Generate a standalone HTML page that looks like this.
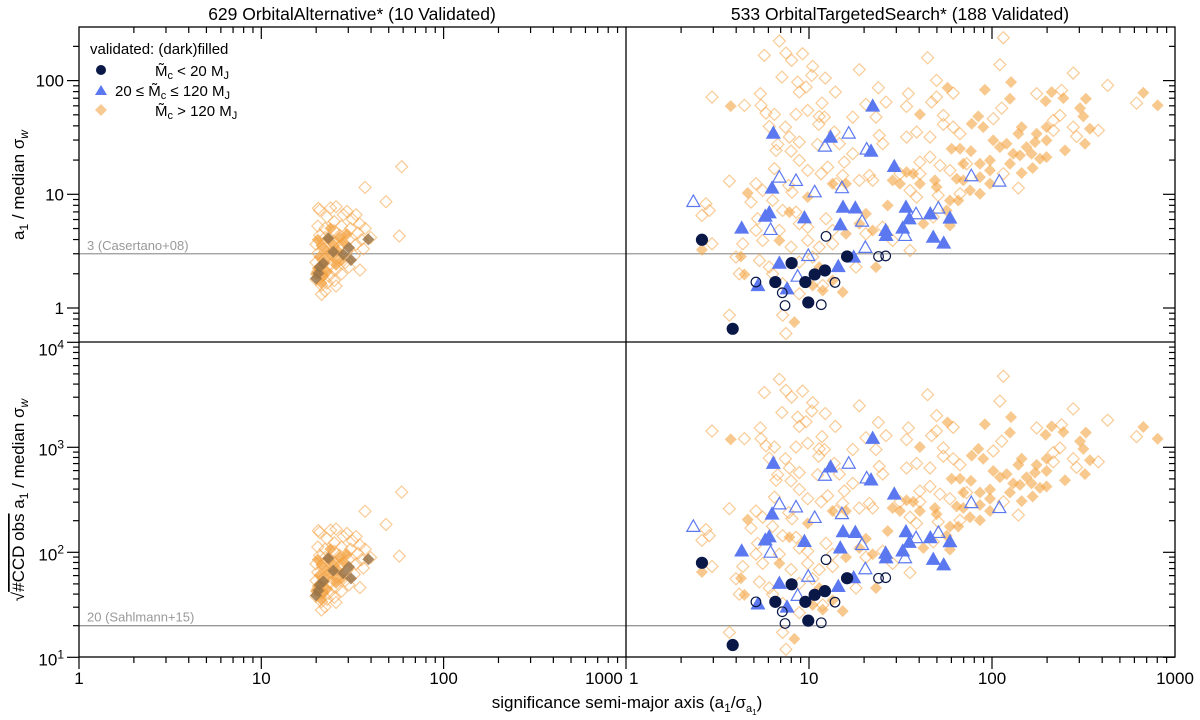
<!DOCTYPE html>
<html><head><meta charset="utf-8"><style>
body{margin:0;background:#fff}
svg{display:block;font-family:"Liberation Sans",sans-serif}
</style></head><body>
<svg id="chart" width="1200" height="720" viewBox="0 0 1200 720" xmlns="http://www.w3.org/2000/svg">
<defs>
<clipPath id="cTL"><rect x="79" y="27" width="547" height="315"/></clipPath>
<clipPath id="cTR"><rect x="626" y="27" width="549" height="315"/></clipPath>
<clipPath id="cBL"><rect x="79" y="342" width="547" height="315"/></clipPath>
<clipPath id="cBR"><rect x="626" y="342" width="549" height="315"/></clipPath>
</defs>
<g id="axes"></g>
<g id="marks"></g>
<g id="frame"></g>
<text x="352" y="20" font-size="17.5" text-anchor="middle">629 OrbitalAlternative* (10 Validated)</text>
<text x="900" y="20" font-size="17.5" text-anchor="middle">533 OrbitalTargetedSearch* (188 Validated)</text>
<text x="627" y="708" font-size="17" text-anchor="middle">significance semi-major axis (a<tspan font-size="12" dy="4">1</tspan><tspan dy="-4">/σ</tspan><tspan font-size="11" dy="4">a</tspan><tspan font-size="8" dy="3">1</tspan><tspan dy="-7">)</tspan></text>
<text transform="translate(24,185) rotate(-90)" font-size="17" text-anchor="middle">a<tspan font-size="12" dy="4">1</tspan><tspan dy="-4"> / median σ</tspan><tspan font-size="12" dy="4" font-style="italic">w</tspan></text>
<text transform="translate(24,500) rotate(-90)" font-size="17" text-anchor="middle">√<tspan text-decoration="overline">#CCD obs</tspan>  a<tspan font-size="12" dy="4">1</tspan><tspan dy="-4"> / median σ</tspan><tspan font-size="12" dy="4" font-style="italic">w</tspan></text>
<g font-size="15">
<text x="90" y="54">validated: (dark)filled</text>
<circle cx="101" cy="70" r="5" fill="#0a1848"/>
<text x="155" y="76">M̃<tspan font-size="11" dy="3">c</tspan><tspan dy="-3"> &lt;   20 M</tspan><tspan font-size="11" dy="3">J</tspan></text>
<path d="M101,85 L107,95 L95,95 Z" fill="#5b78f0"/>
<text x="115" y="96">20 ≤ M̃<tspan font-size="11" dy="3">c</tspan><tspan dy="-3"> ≤ 120 M</tspan><tspan font-size="11" dy="3">J</tspan></text>
<path d="M101,104 L107,110 L101,116 L95,110 Z" fill="#f4b870" opacity="0.75"/>
<text x="155" y="116">M̃<tspan font-size="11" dy="3">c</tspan><tspan dy="-3"> &gt; 120 M</tspan><tspan font-size="11" dy="3">J</tspan></text>
</g>
</svg>
<script>
// values are log10 of the plotted quantities
const rightCircleFilledX=[.415,.583,.816,.905,.98,1.031,1.087,.996,1.208];
const rightCircleFilledY=[.600,-.183,.228,.395,.228,.295,.33,.049,.453];
const rightCircleOpenX=[.71,.854,.869,1.067,1.142,1.093,1.38,1.419];
const rightCircleOpenY=[.228,.134,.022,.029,.225,.63,.453,.458];
const rightTriFilledX=[.805,1.118,1.339,1.348,1.466,.798,.783,.761,.632,.975,1.186,1.253,1.171,1.419,.838,.721,.88,1.16,1.244,1.421,1.53,1.548,1.663,1.77,1.512,1.679,1.736];
const rightTriFilledY=[1.538,1.503,1.38,1.776,1.245,1.055,.838,.808,.703,.794,.887,.88,.732,.682,.395,.198,.169,.365,.448,.638,.887,.785,.829,.791,.703,.623,.571];
const rightTriOpenX=[.368,.838,.929,1.031,1.087,1.217,1.315,1.18,.79,1.29,1.308,.996,.938,1.887,2.04,1.707,1.585,1.525];
const rightTriOpenY=[.937,1.151,1.122,1.022,1.424,1.538,1.398,1.058,.691,.764,.533,.462,.28,1.163,1.116,.879,.829,.638];
const rightDiaOpenX=[.838,.756,.874,.965,.905,1.02,.852,.938,1.015,1.089,1.275,.984,.947,1.144,1.379,.47,.647,.734,.738,.765,.811,.929,.993,1.071,1.056,1.084,1.239,1.311,1.366,1.421,.783,.871,1.053,1.138,.893,.947,.829,.82,.902,1.047,1.166,1.239,1.384,1.403,.947,.993,1.102,.811,1.193,1.33,.565,.71,.747,.889,.907,1.066,1.184,1.275,1.348,1.148,.437,.455,.415,.683,.719,.801,.856,.929,.947,.993,1.093,1.129,.838,.71,.638,.747,.902,.993,1.056,1.129,.47,.601,.729,.783,.947,1.02,.619,.801,.856,.947,1.075,1.257,.565,.856,.874,1.311,1.403,1.457,
1.648,2.062,2.043,2.444,2.632,2.79,1.697,1.788,1.543,1.533,1.697,1.67,2.053,2.007,1.734,1.734,1.788,1.825,1.588,1.661,1.533,2.371,2.335,2.444,2.462,2.581,2.335,2.244,2.38,1.661,1.716,1.77,1.606,1.861,2.062,2.144,1.552,1.588,1.706,1.825,1.552,1.497,1.606,1.679];
const rightDiaOpenY=[2.348,2.222,2.242,2.236,2.178,2.125,2.031,1.987,2.046,2.022,2.096,1.943,1.899,1.899,1.937,1.855,1.782,1.885,1.782,1.714,1.703,1.703,1.738,1.802,1.685,1.679,1.679,1.791,1.679,1.811,1.597,1.591,1.615,1.547,1.503,1.459,1.439,1.386,1.38,1.439,1.445,1.357,1.518,1.445,1.298,1.21,1.239,1.225,1.283,1.166,1.116,1.093,1.034,1.078,1.019,1.181,1.166,1.122,1.122,1.093,.917,.858,.814,.931,.785,.946,.858,.843,.741,.711,.785,.682,.682,.682,.565,.594,.536,.594,.536,.565,.565,.448,.418,.36,.404,.448,.301,.301,.213,.125,.198,.36,-.063,-.063,-.224,.653,.711,.594,
2.201,2.377,2.14,2.066,1.958,1.802,2.002,1.89,1.885,1.773,1.855,1.811,1.758,1.665,1.694,1.615,1.591,1.533,1.547,1.503,1.503,1.694,1.65,1.591,1.509,1.562,1.562,1.885,1.914,1.327,1.254,1.21,1.283,1.269,1.181,1.055,1.034,.975,.99,1.005,.506,1.181,1.181,.8];
const rightDiaFilledX=[.572,.665,.415,.628,.647,.92,.893,.993,1.129,1.202,1.366,1.184,1.075,1.02,.838,1.202,1.275,1.348,1.457,1.43,1.311,1.056,1.129,
1.757,1.961,2.104,2.098,2.293,2.326,2.39,2.513,2.481,2.499,2.827,2.905,1.606,1.925,1.889,1.952,2.007,2.162,2.144,2.244,2.235,2.298,2.298,2.399,2.508,2.535,1.779,1.825,1.885,2.043,2.08,2.116,2.153,2.189,2.216,2.262,2.298,2.098,2.162,2.222,1.989,1.934,1.934,1.989,1.843,1.533,1.57,1.688,1.807,1.843,1.88,1.934,1.989,1.77,1.816,1.752,1.625,1.77,1.697,1.606,1.497];
const rightDiaFilledY=[1.776,1.011,.512,.453,.295,-.124,.843,.975,1.093,1.093,.36,.14,.154,.198,.594,.653,.741,.682,1.122,.902,.829,.36,.242,
1.937,1.92,1.987,1.84,1.82,1.899,1.846,1.84,1.758,1.685,1.893,1.782,1.703,1.685,1.621,1.591,1.474,1.591,1.533,1.533,1.459,1.591,1.474,1.386,1.445,1.577,1.401,1.401,1.38,1.415,1.445,1.357,1.342,1.415,1.357,1.313,1.327,1.269,1.187,1.231,1.298,1.269,1.151,1.21,1.269,1.195,1.181,1.122,1.137,1.122,1.034,1.005,1.093,.946,.946,.858,.741,.726,1.063,1.093,1.093];
const leftDiaOpenX=[1.77,1.569,1.684,1.757,1.41,1.313,1.41,1.541,1.30,1.31,1.30,1.31,1.30,1.32,1.31,1.33,1.33,1.34,1.34,1.35,1.35,1.36,1.37,1.38,1.38,1.39,1.40,1.40,1.41,1.42,1.43,1.43,1.44,1.45,1.46,1.47,1.48,1.49,1.50,1.51,1.52,1.53,1.54,1.55,1.56,1.36,1.40,1.44,1.48,1.32,1.38,1.47,1.52,1.57,1.60,1.33,1.35];
const leftDiaOpenY=[1.243,1.061,.935,.633,.891,.877,.193,.334,.25,.32,.40,.48,.56,.64,.72,.20,.30,.42,.52,.62,.70,.80,.28,.38,.48,.58,.68,.76,.34,.44,.54,.64,.72,.82,.40,.50,.60,.70,.78,.46,.56,.66,.74,.60,.52,.22,.24,.30,.36,.86,.88,.85,.82,.70,.62,.12,.15];
const leftDiaFilledX=[1.31,1.32,1.33,1.35,1.36,1.37,1.39,1.40,1.42,1.43,1.45,1.47,1.34,1.31,1.38,1.30,1.33,1.36,1.41,1.44];
const leftDiaFilledY=[.35,.45,.55,.40,.50,.60,.45,.55,.50,.62,.58,.65,.28,.60,.70,.30,.22,.32,.38,.42];
const leftDiaDarkX=[1.368,1.481,1.587,1.395,1.34,1.492,1.313,1.32,1.45,1.30];
const leftDiaDarkY=[.613,.53,.604,.495,.393,.422,.305,.36,.47,.26];
// log10 of typical sqrt(#CCD obs) per sample (bottom panel = top value x sqrt(N))
const sqrtNccdLogLeft=1.33;
const sqrtNccdLogRightDiamond=1.30;
const sqrtNccdLogRightTriangle=1.31;
const sqrtNccdLogRightCircle=1.30;
const thresholdTop=3, thresholdBottom=20;
const xTickLabels=['1','10','100','1000'];

const NS='http://www.w3.org/2000/svg';
const xL=l=>79+182.3*l, xR=l=>626+183*l;
const yT=l=>308-113.7*l, yB=l=>657.3-105*(l-1);
const marks=document.getElementById('marks'), axes=document.getElementById('axes'), frame=document.getElementById('frame');
function mk(tag,attrs,parent){const e=document.createElementNS(NS,tag);for(const k in attrs)e.setAttribute(k,attrs[k]);parent.appendChild(e);return e;}
const groups={};
['TL','TR','BL','BR'].forEach(p=>{const g=mk('g',{'clip-path':'url(#c'+p+')'},marks);


groups[p]=g;});
function diamond(g,cx,cy,fill,stroke,op,name){const s=6;const e=mk('path',{d:`M${cx},${cy-s} L${cx+s},${cy} L${cx},${cy+s} L${cx-s},${cy} Z`,fill:fill,stroke:stroke,'stroke-width':1.2,opacity:op},g);

}
function tri(g,cx,cy,filled,name){const e=mk('path',{d:`M${cx},${cy-6.5} L${cx+6.5},${cy+5} L${cx-6.5},${cy+5} Z`,fill:filled?'#5b78f0':'none',stroke:'#5b78f0','stroke-width':1.2},g);

}
function circ(g,cx,cy,filled,name){const e=mk('circle',{cx:cx,cy:cy,r:filled?5.5:4.8,fill:filled?'#0a1848':'none',stroke:'#0a1848','stroke-width':1.2},g);

}
function draw(pTop,pBot,xf,X,Y,off,fn){X.forEach((x,i)=>{fn(groups[pTop],xf(x),yT(Y[i]));fn(groups[pBot],xf(x),yB(Y[i]+off));});}
draw('TL','BL',xL,leftDiaOpenX,leftDiaOpenY,sqrtNccdLogLeft,(g,x,y)=>diamond(g,x,y,'none','#f5a850',0.6,'candidate-diamond'));
draw('TL','BL',xL,leftDiaFilledX,leftDiaFilledY,sqrtNccdLogLeft,(g,x,y)=>diamond(g,x,y,'#f3a240','none',0.75,'candidate-diamond-filled'));
draw('TL','BL',xL,leftDiaDarkX,leftDiaDarkY,sqrtNccdLogLeft,(g,x,y)=>diamond(g,x,y,'#9a7448','none',0.85,'validated-diamond'));
draw('TR','BR',xR,rightDiaOpenX,rightDiaOpenY,sqrtNccdLogRightDiamond,(g,x,y)=>diamond(g,x,y,'none','#f5a850',0.6,'candidate-diamond'));
draw('TR','BR',xR,rightDiaFilledX,rightDiaFilledY,sqrtNccdLogRightDiamond,(g,x,y)=>diamond(g,x,y,'#f3a545','none',0.6,'validated-diamond'));
draw('TR','BR',xR,rightTriOpenX,rightTriOpenY,sqrtNccdLogRightTriangle,(g,x,y)=>tri(g,x,y,false,'candidate-triangle'));
draw('TR','BR',xR,rightTriFilledX,rightTriFilledY,sqrtNccdLogRightTriangle,(g,x,y)=>tri(g,x,y,true,'validated-triangle'));
draw('TR','BR',xR,rightCircleOpenX,rightCircleOpenY,sqrtNccdLogRightCircle,(g,x,y)=>circ(g,x,y,false,'candidate-circle'));
draw('TR','BR',xR,rightCircleFilledX,rightCircleFilledY,sqrtNccdLogRightCircle,(g,x,y)=>circ(g,x,y,true,'validated-circle'));

// threshold lines
const tT=yT(Math.log10(thresholdTop)), tB=yB(Math.log10(thresholdBottom));
let e=mk('line',{x1:79,x2:1175,y1:tT,y2:tT,stroke:'#999','stroke-width':1.3},axes);


e=mk('line',{x1:79,x2:1175,y1:tB,y2:tB,stroke:'#999','stroke-width':1.3},axes);


e=mk('text',{x:87,y:tT-4,'font-size':13,fill:'#999'},axes);e.textContent='3 (Casertano+08)';


e=mk('text',{x:87,y:tB-4,'font-size':13,fill:'#999'},axes);e.textContent='20 (Sahlmann+15)';



// frame
const fl={stroke:'#000','stroke-width':1.3,fill:'none'};
e=mk('rect',Object.assign({x:79,y:27,width:1096,height:630},fl),frame);


mk('line',Object.assign({x1:79,x2:1175,y1:342,y2:342},fl),frame);
mk('line',Object.assign({x1:626,x2:626,y1:27,y2:657},fl),frame);

// x ticks
function xticks(xf,labels,side){for(let d=0;d<3;d++){for(let m=1;m<10;m++){const lx=d+Math.log10(m);const x=xf(lx);const len=m===1?12:6;
mk('line',{x1:x,x2:x,y1:657,y2:657+len,stroke:'#000','stroke-width':1.2},frame);
if(!(m===1&&d===0))mk('line',{x1:x,x2:x,y1:27,y2:27+len,stroke:'#000','stroke-width':1.2},frame);}}
labels.forEach((t,i)=>{let x=xf(i),anchor='middle';
if(side==='left'&&i===labels.length-1){x=xf(i)-3;anchor='end';}
if(side==='right'&&i===0){x=xf(i)+3;anchor='start';}
const el=mk('text',{x:x,y:684,'font-size':17,'text-anchor':anchor},frame);el.textContent=t;

});}
xticks(xL,xTickLabels,'left');
xticks(xR,xTickLabels,'right');
// y ticks top
for(let d=-1;d<3;d++)for(let m=1;m<10;m++){const l=d+Math.log10(m);const y=yT(l);if(y<27||y>342)continue;const len=m===1?12:6;
mk('line',{x1:79-len,x2:79,y1:y,y2:y,stroke:'#000','stroke-width':1.2},frame);
mk('line',{x1:1175-len,x2:1175,y1:y,y2:y,stroke:'#000','stroke-width':1.2},frame);}
[['1',0],['10',1],['100',2]].forEach(([t,l])=>{const el=mk('text',{x:64,y:yT(l)+6,'font-size':17,'text-anchor':'end'},frame);el.textContent=t;

});
for(let d=1;d<4;d++)for(let m=1;m<10;m++){const l=d+Math.log10(m);const y=yB(l);if(y<341||y>658)continue;const len=m===1?12:6;
mk('line',{x1:79-len,x2:79,y1:y,y2:y,stroke:'#000','stroke-width':1.2},frame);
mk('line',{x1:1175-len,x2:1175,y1:y,y2:y,stroke:'#000','stroke-width':1.2},frame);}
mk('line',{x1:67,x2:79,y1:yB(4),y2:yB(4),stroke:'#000','stroke-width':1.2},frame);
[1,2,3,4].forEach(l=>{const el=mk('text',{x:64,y:yB(l)+(l===4?13:8),'font-size':17,'text-anchor':'end'},frame);
el.innerHTML='10<tspan font-size="12" dy="-7">'+l+'</tspan>';

});
</script>
</body></html>
